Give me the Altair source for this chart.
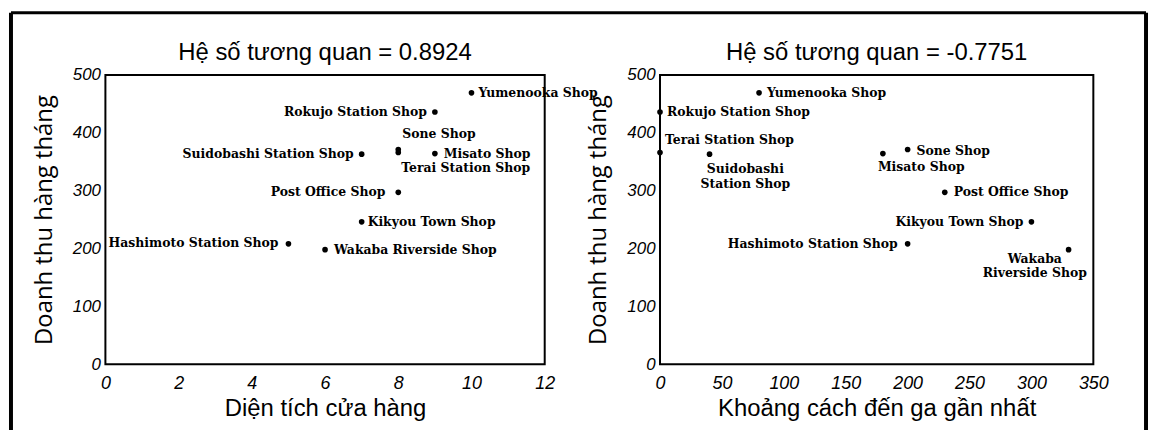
import altair as alt
import pandas as pd

# ---------------- data ----------------
shops = ["Yumenooka Shop", "Terai Station Shop", "Sone Shop", "Hashimoto Station Shop",
         "Kikyou Town Shop", "Post Office Shop", "Suidobashi Station Shop",
         "Rokujo Station Shop", "Wakaba Riverside Shop", "Misato Shop"]
area = [10, 8, 8, 5, 7, 8, 7, 9, 6, 9]
distance = [80, 0, 200, 200, 300, 230, 40, 0, 330, 180]
sales = [469, 366, 371, 208, 246, 297, 363, 436, 198, 364]

x_area_ticks = [0, 2, 4, 6, 8, 10, 12]
x_dist_ticks = [0, 50, 100, 150, 200, 250, 300, 350]
y_ticks = [0, 100, 200, 300, 400, 500]

title_left = "Hệ số tương quan = 0.8924"
title_right = "Hệ số tương quan = -0.7751"
x_title_left = "Diện tích cửa hàng"
x_title_right = "Khoảng cách đến ga gần nhất"
y_title = "Doanh thu hàng tháng"

df = pd.DataFrame({"shop": shops, "area": area, "distance": distance, "sales": sales})

# ---------------- label placement (style) ----------------
# shop: (align, baseline, dx, dy)
left_specs = {
    "Yumenooka Shop": ("left", "middle", 7, 0),
    "Rokujo Station Shop": ("right", "middle", -8, 0),
    "Sone Shop": ("left", "middle", 4, -16),
    "Terai Station Shop": ("left", "middle", 3, 16),
    "Misato Shop": ("left", "middle", 9, 0),
    "Suidobashi Station Shop": ("right", "middle", -8, 0),
    "Post Office Shop": ("right", "middle", -13, 0),
    "Kikyou Town Shop": ("left", "middle", 6, 0),
    "Hashimoto Station Shop": ("right", "middle", -10, -1),
    "Wakaba Riverside Shop": ("left", "middle", 9, 0),
}
right_specs = {
    "Yumenooka Shop": ("left", "middle", 8, 0),
    "Rokujo Station Shop": ("left", "middle", 7, 0),
    "Terai Station Shop": ("left", "middle", 5, -12),
    "Suidobashi Station Shop": ("center", "top", 36, 9),
    "Sone Shop": ("left", "middle", 9, 1),
    "Misato Shop": ("left", "middle", -5, 13),
    "Post Office Shop": ("left", "middle", 9, 0),
    "Kikyou Town Shop": ("right", "middle", -8, 0),
    "Hashimoto Station Shop": ("right", "middle", -10, 0),
    "Wakaba Riverside Shop": ("center", "top", -34, 3),
}
right_wrapped = {"Suidobashi Station Shop", "Wakaba Riverside Shop"}

TICK_FONT = "Liberation Sans"
SANS = "Liberation Sans"
YTITLE_FONT = "Open Sans"
LABEL_FONT = "DejaVu Serif"


def panel(xfield, xmax, xticks, width, xtitle, title, specs, wrapped, border):
    base = alt.Chart(df)
    x = alt.X(f"{xfield}:Q",
              scale=alt.Scale(domain=[0, xmax], nice=False, zero=True),
              axis=alt.Axis(values=xticks, title=xtitle, domain=False, ticks=False, grid=False,
                            labelFont=TICK_FONT, labelFontSize=18, labelFontStyle="italic",
                            labelColor="black", labelPadding=10, labelFlush=False,
                            titleFont=SANS, titleFontSize=24, titleFontWeight="normal",
                            titleColor="black", titlePadding=5))
    y = alt.Y("sales:Q",
              scale=alt.Scale(domain=[0, 500], nice=False, zero=True),
              axis=alt.Axis(values=y_ticks, title=y_title, domain=False, ticks=False, grid=False,
                            labelFont=TICK_FONT, labelFontSize=17, labelFontStyle="italic",
                            labelColor="black", labelPadding=5, labelFlush=False,
                            titleFont=YTITLE_FONT, titleFontSize=24, titleFontWeight="normal",
                            titleColor="black", titlePadding=16))
    layers = [base.mark_circle(size=32, color="black", opacity=1).encode(x=x, y=y)]
    for shop, (align, baseline, dx, dy) in specs.items():
        t = base.transform_filter(alt.datum.shop == shop)
        if shop in wrapped:
            t = t.transform_calculate(label="replace(datum.shop, ' ', '\\n')")
        else:
            t = t.transform_calculate(label="datum.shop")
        layers.append(
            t.mark_text(align=align, baseline=baseline, dx=dx, dy=dy, font=LABEL_FONT,
                        fontSize=12.5, fontWeight="bold", color="black",
                        lineBreak="\n", lineHeight=15)
            .encode(x=x, y=y, text="label:N")
        )
    one = alt.Chart(pd.DataFrame({"k": [0]}))
    for (x1, x2, y1, y2, sw) in border:
        enc = {"x": alt.value(x1), "y": alt.value(y1)}
        if x2 is not None:
            enc["x2"] = alt.value(x2)
        if y2 is not None:
            enc["y2"] = alt.value(y2)
        layers.append(one.mark_rule(color="black", strokeWidth=sw).encode(**enc))
    return alt.layer(*layers).properties(
        width=width, height=291,
        title=alt.TitleParams(text=title, font=SANS, fontSize=24, fontWeight="normal",
                              color="black", anchor="middle", offset=-54, frame="group"),
    )


# decorative outer frame of the scanned figure
left_border = [(-95, None, -62.5, 370, 4), (-95, 1047, -62.5, None, 3)]
right_border = [(489, None, -62.5, 370, 4)]

left = panel("area", 12, x_area_ticks, 442, x_title_left, title_left, left_specs, set(), left_border)
right = panel("distance", 350, x_dist_ticks, 436, x_title_right, title_right, right_specs,
              right_wrapped, right_border)

chart = (
    alt.hconcat(left, right, spacing=116, bounds="flush")
    .properties(padding=0, background="white")
    .configure_view(stroke="black", strokeWidth=2)
)

chart.save("out.html", embed_options={"renderer": "svg", "actions": False})
